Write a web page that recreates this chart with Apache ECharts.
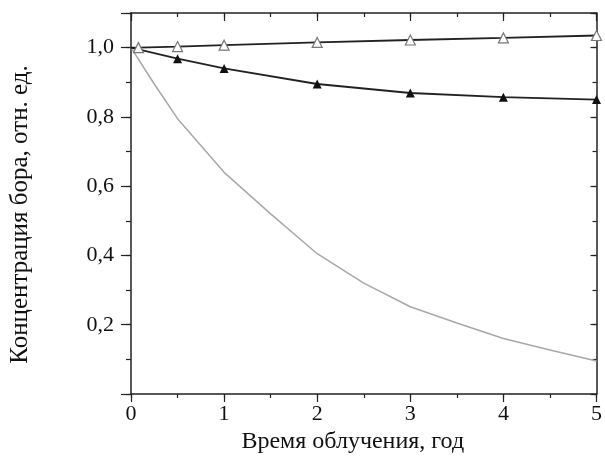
<!DOCTYPE html>
<html>
<head>
<meta charset="utf-8">
<script src="https://cdn.jsdelivr.net/npm/echarts@6/dist/echarts.min.js"></script>
<style>html,body{margin:0;padding:0;background:#fff}#c{width:605px;height:461px}</style>
</head>
<body>
<div id="c"></div>
<script>
// Data
var xOpen = [0, 0.08, 0.5, 1, 2, 3, 4, 5];
var yOpen = [1.0, 1.0, 1.003, 1.007, 1.015, 1.022, 1.028, 1.035];
var xFilled = [0, 0.5, 1, 2, 3, 4, 5];
var yFilled = [1.0, 0.968, 0.940, 0.895, 0.869, 0.857, 0.850];
var xGray = [0, 0.25, 0.5, 1, 1.5, 2, 2.5, 3, 3.5, 4, 4.5, 5];
var yGray = [1.0, 0.895, 0.795, 0.640, 0.520, 0.405, 0.320, 0.252, 0.205, 0.160, 0.127, 0.095];
var xTitle = 'Время облучения, год';
var yTitle = 'Концентрация бора, отн. ед.';

function pairs(xs, ys) { return xs.map(function (x, i) { return [x, ys[i]]; }); }

var font = 'Liberation Serif';
var axisCol = '#222';

function xAx(o) { return Object.assign({ type: 'value', min: 0, max: 5, splitLine: { show: false } }, o); }
function yAx(o) { return Object.assign({ type: 'value', min: 0, max: 1.1, splitLine: { show: false } }, o); }

var chart = echarts.init(document.getElementById('c'), null, { renderer: 'canvas' });
chart.setOption({
  backgroundColor: '#fff',
  animation: false,
  grid: { left: 130, right: 6, top: 13, bottom: 67, containLabel: false },
  xAxis: [
    xAx({ position: 'bottom', interval: 1,
      axisLine: { show: true, onZero: false, lineStyle: { color: axisCol, width: 1.5 } },
      axisTick: { show: true, inside: false, length: 8, lineStyle: { color: axisCol, width: 1.2 } },
      axisLabel: { show: true, margin: 9, color: '#111', fontFamily: font, fontSize: 22 },
      name: xTitle, nameLocation: 'middle', nameGap: 31,
      nameTextStyle: { fontFamily: font, fontSize: 24, color: '#111', padding: [0, 22, 0, 0] } }),
    xAx({ position: 'bottom', interval: 0.5,
      axisLine: { show: false, onZero: false },
      axisTick: { show: true, inside: false, length: 4, lineStyle: { color: axisCol, width: 1.2 } },
      axisLabel: { show: false } }),
    xAx({ position: 'top', interval: 1,
      axisLine: { show: true, onZero: false, lineStyle: { color: axisCol, width: 1.5 } },
      axisTick: { show: true, inside: true, length: 8, lineStyle: { color: axisCol, width: 1.2 } },
      axisLabel: { show: false } }),
    xAx({ position: 'top', interval: 0.5,
      axisLine: { show: false, onZero: false },
      axisTick: { show: true, inside: true, length: 4, lineStyle: { color: axisCol, width: 1.2 } },
      axisLabel: { show: false } })
  ],
  yAxis: [
    yAx({ position: 'left', interval: 0.2,
      axisLine: { show: true, onZero: false, lineStyle: { color: axisCol, width: 1.5 } },
      axisTick: { show: true, inside: false, length: 10, lineStyle: { color: axisCol, width: 1.2 } },
      axisLabel: { show: true, margin: 17, color: '#111', fontFamily: font, fontSize: 22,
        formatter: function (v) {
          var r = Math.round(v * 10);
          if (r === 0 || r % 2 !== 0) return '';
          return v.toFixed(1).replace('.', ',');
        } },
      name: yTitle, nameLocation: 'middle', nameGap: 98, nameRotate: 90,
      nameTextStyle: { fontFamily: font, fontSize: 25, color: '#111', padding: [0, 22, 0, 0] } }),
    yAx({ position: 'left', interval: 0.1,
      axisLine: { show: false, onZero: false },
      axisTick: { show: true, inside: false, length: 5, lineStyle: { color: axisCol, width: 1.2 } },
      axisLabel: { show: false } }),
    yAx({ position: 'right', interval: 0.2,
      axisLine: { show: true, onZero: false, lineStyle: { color: axisCol, width: 1.5 } },
      axisTick: { show: true, inside: true, length: 6, lineStyle: { color: axisCol, width: 1.2 } },
      axisLabel: { show: false } }),
    yAx({ position: 'right', interval: 0.1,
      axisLine: { show: false, onZero: false },
      axisTick: { show: true, inside: true, length: 4, lineStyle: { color: axisCol, width: 1.2 } },
      axisLabel: { show: false } })
  ],
  series: [
    { type: 'line', data: pairs(xGray, yGray), showSymbol: false, symbol: 'none', smooth: false,
      lineStyle: { color: '#a8a8a8', width: 1.5 }, z: 1 },
    { type: 'line', data: pairs(xFilled, yFilled).map(function (p, i) {
        return i === 0 ? { value: p, symbol: 'none' } : { value: p };
      }),
      symbol: 'triangle', symbolSize: 9,
      itemStyle: { color: '#111' }, lineStyle: { color: '#222', width: 1.8 }, z: 2 },
    { type: 'line', data: pairs(xOpen, yOpen).map(function (p, i) {
        return i === 0 ? { value: p, symbol: 'none' } : { value: p };
      }),
      symbol: 'triangle', symbolSize: 10,
      itemStyle: { color: '#fff', borderColor: '#777', borderWidth: 1.2 },
      lineStyle: { color: '#222', width: 1.8 }, z: 3 }
  ]
});
</script>
</body>
</html>
